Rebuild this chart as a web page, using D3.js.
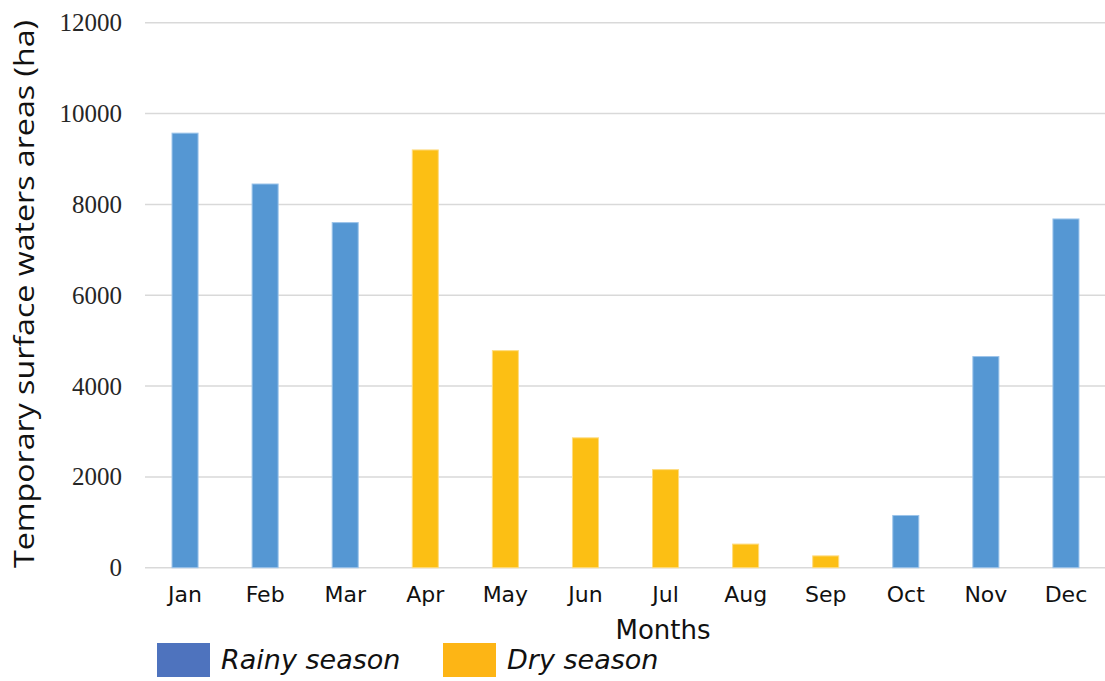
<!DOCTYPE html>
<html>
<head>
<meta charset="utf-8">
<script src="https://cdn.jsdelivr.net/npm/d3@7"></script>
<style>
  html, body { margin: 0; padding: 0; background: #fff; }
  svg { display: block; }
</style>
</head>
<body>
<svg id="chart" width="1105" height="681"></svg>
<script>
// Monthly temporary surface water area (ha)
const months = ["Jan", "Feb", "Mar", "Apr", "May", "Jun", "Jul", "Aug", "Sep", "Oct", "Nov", "Dec"];
const areas = [9570, 8450, 7600, 9200, 4780, 2860, 2160, 520, 260, 1150, 4650, 7680];
const seasons = ["Rainy", "Rainy", "Rainy", "Dry", "Dry", "Dry", "Dry", "Dry", "Dry", "Rainy", "Rainy", "Rainy"];
const yTicks = [0, 2000, 4000, 6000, 8000, 10000, 12000];
const legendItems = ["Rainy season", "Dry season"];

const barColor = { Rainy: "#5597d3", Dry: "#fcbf14" };
const barEdge = { Rainy: "#9cc4ea", Dry: "#fedc80" };
const legendColor = ["#4e73be", "#fdb515"];

const svg = d3.select("#chart");
const margin = { left: 145, right: -1, top: 22.8, bottom: 113.3 };
const W = 1105, H = 681;

const x = d3.scaleBand()
  .domain(months)
  .range([margin.left, W - margin.right])
  .paddingInner(0.675)
  .paddingOuter(0.3375);

const y = d3.scaleLinear()
  .domain([0, 12000])
  .range([H - margin.bottom, margin.top]);

// horizontal gridlines
svg.append("g")
  .selectAll("line")
  .data(yTicks)
  .join("line")
  .attr("x1", margin.left)
  .attr("x2", W)
  .attr("y1", d => y(d))
  .attr("y2", d => y(d))
  .attr("stroke", "#d9d9d9")
  .attr("stroke-width", 1.5);

// y tick labels
const yAxis = d3.axisLeft(y).tickValues(yTicks).tickSize(0).tickPadding(0).tickFormat(d3.format("d"));
const gy = svg.append("g")
  .attr("transform", `translate(122,0)`)
  .call(yAxis);
gy.select(".domain").remove();
gy.selectAll("text")
  .attr("font-family", "'Liberation Serif', 'Times New Roman', serif")
  .attr("font-size", 25)
  .attr("fill", "#262626");

// bars
svg.append("g")
  .selectAll("rect")
  .data(months.map((m, i) => ({ m, v: areas[i], s: seasons[i] })))
  .join("rect")
  .attr("x", d => x(d.m))
  .attr("width", x.bandwidth())
  .attr("y", d => y(d.v))
  .attr("height", d => y(0) - y(d.v))
  .attr("fill", d => barColor[d.s])
  .attr("stroke", d => barEdge[d.s])
  .attr("stroke-width", 1);

// x tick labels
const xAxis = d3.axisBottom(x).tickSize(0).tickPadding(0);
const gx = svg.append("g")
  .attr("transform", `translate(0,${y(0) + 34})`)
  .call(xAxis);
gx.select(".domain").remove();
gx.selectAll("text")
  .attr("dy", 0)
  .attr("font-family", "'DejaVu Sans', Verdana, sans-serif")
  .attr("font-size", 22)
  .attr("fill", "#111");

// axis titles
svg.append("text")
  .attr("x", 663)
  .attr("y", 639)
  .attr("text-anchor", "middle")
  .attr("font-family", "'DejaVu Sans', Verdana, sans-serif")
  .attr("font-size", 26)
  .attr("fill", "#111")
  .text("Months");

svg.append("text")
  .attr("transform", "translate(34,294) rotate(-90)")
  .attr("text-anchor", "middle")
  .attr("font-family", "'Open Sans', 'Noto Sans', sans-serif")
  .attr("font-size", 28)
  .attr("textLength", 548)
  .attr("lengthAdjust", "spacingAndGlyphs")
  .attr("fill", "#111")
  .text("Temporary surface waters areas (ha)");

// legend
const legendX = [157, 443];
const lg = svg.append("g")
  .selectAll("g")
  .data(legendItems)
  .join("g")
  .attr("transform", (d, i) => `translate(${legendX[i]},643)`);
lg.append("rect")
  .attr("width", 53)
  .attr("height", 34)
  .attr("fill", (d, i) => legendColor[i]);
lg.append("text")
  .attr("x", 64)
  .attr("y", 26)
  .attr("font-family", "'DejaVu Sans', Verdana, sans-serif")
  .attr("font-style", "italic")
  .attr("font-size", 27)
  .attr("fill", "#111")
  .text(d => d);
</script>
</body>
</html>
